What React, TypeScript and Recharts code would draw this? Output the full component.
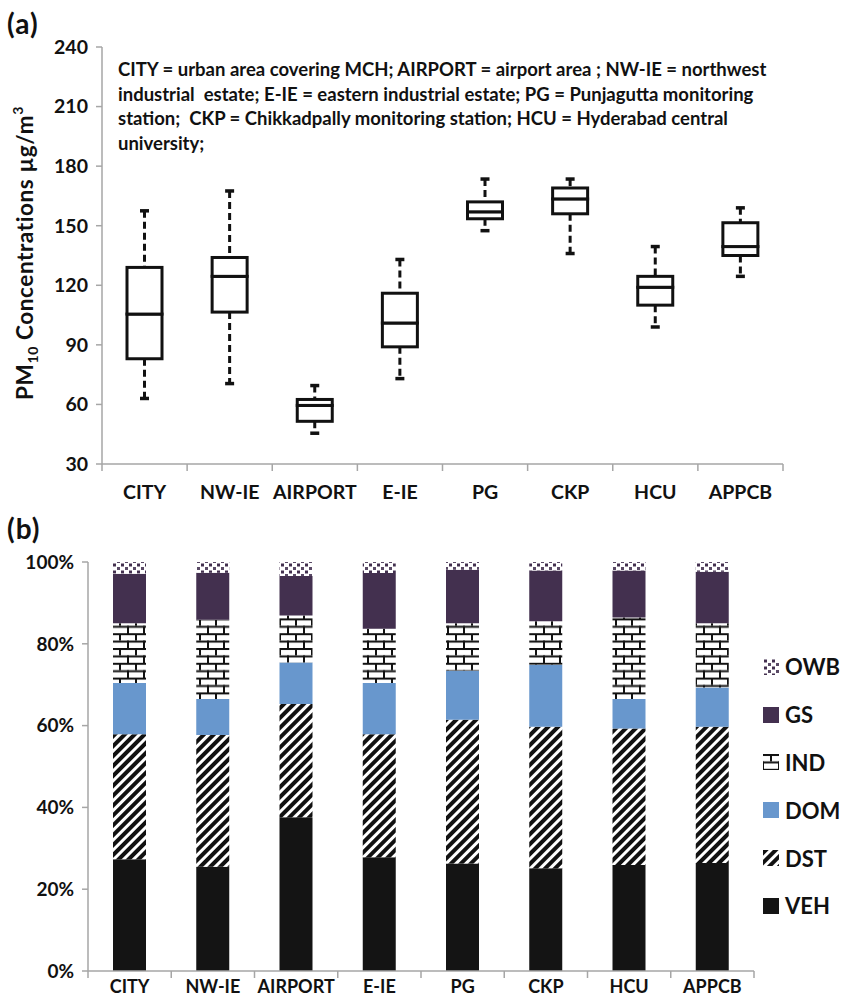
import React from 'react';
import { BarChart, Bar, XAxis, YAxis, Legend } from 'recharts';

const sites = ['CITY', 'NW-IE', 'AIRPORT', 'E-IE', 'PG', 'CKP', 'HCU', 'APPCB'];

// (a) PM10 box plot, µg/m3
const pmMin = [63, 70.5, 45.5, 73, 147.5, 136, 99, 124.5];
const pmQ1 = [83, 106.5, 51.5, 89, 153.5, 156, 110, 135];
const pmMedian = [105.5, 124.5, 59.5, 101, 157, 163.5, 119, 139.5];
const pmQ3 = [129, 134, 62.5, 116, 162, 169, 124.5, 151.5];
const pmMax = [157.5, 167.5, 69.5, 133, 173.5, 173.5, 139.5, 159];
const pmTicks = [30, 60, 90, 120, 150, 180, 210, 240];

// (b) source contributions, %
const VEH = [27.3, 25.5, 37.6, 27.8, 26.3, 25.1, 25.9, 26.4];
const DST = [30.6, 32.2, 27.7, 30.1, 35.1, 34.6, 33.4, 33.3];
const DOM = [12.5, 8.8, 10.1, 12.5, 12.0, 15.2, 7.2, 9.6];
const IND = [14.6, 19.4, 11.5, 13.3, 11.6, 10.6, 19.9, 15.7];
const GS = [12.1, 11.5, 9.7, 13.6, 13.1, 12.4, 11.5, 12.6];
const OWB = [2.9, 2.6, 3.4, 2.7, 1.9, 2.1, 2.1, 2.4];
const pctTicks = [0, 20, 40, 60, 80, 100];

const sourceNames = ['VEH', 'DST', 'DOM', 'IND', 'GS', 'OWB'];
const sourceFill: Record<string, string> = {
  VEH: '#141414',
  DST: 'url(#pDst)',
  DOM: '#6897cd',
  IND: 'url(#pInd)',
  GS: '#43304f',
  OWB: 'url(#pOwb)',
};

const noteLines = [
  'CITY = urban area covering MCH; AIRPORT = airport area ; NW-IE = northwest',
  'industrial  estate; E-IE = eastern industrial estate; PG = Punjagutta monitoring',
  'station;  CKP = Chikkadpally monitoring station; HCU = Hyderabad central',
  'university;',
];

const FONT = 'Lato, "Open Sans", sans-serif';
const INK = '#111';
const AXIS = '#a6a6a6';

const boxData = sites.map((site, i) => ({
  site,
  base: pmMin[i],
  lowWhisker: pmQ1[i] - pmMin[i],
  lowBox: pmMedian[i] - pmQ1[i],
  highBox: pmQ3[i] - pmMedian[i],
  highWhisker: pmMax[i] - pmQ3[i],
}));

const shareData = sites.map((site, i) => ({
  site,
  VEH: VEH[i],
  DST: DST[i],
  DOM: DOM[i],
  IND: IND[i],
  GS: GS[i],
  OWB: OWB[i],
}));

const SiteTick = (props: any) => {
  const { x, y, payload, index, band, count, fontSize, textDy } = props;
  const left = x - band / 2;
  const right = x + band / 2;
  return (
    <g>
      <line x1={left} x2={left} y1={y} y2={y + 7} stroke={AXIS} strokeWidth={1.5} />
      {index === count - 1 && <line x1={right} x2={right} y1={y} y2={y + 7} stroke={AXIS} strokeWidth={1.5} />}
      <text x={x} y={y + textDy} textAnchor="middle" fill={INK} fontSize={fontSize} fontWeight={700}>
        {payload.value}
      </text>
    </g>
  );
};

const BoxPart = (props: any) => {
  const { x, y, width, height } = props;
  return <rect x={x} y={y} width={width} height={height} fill="#fff" stroke={INK} strokeWidth={3} />;
};

const Whisker = (props: any) => {
  const { x, y, width, height, upper } = props;
  const cx = x + width / 2;
  const capY = upper ? y : y + height;
  return (
    <g>
      <line x1={cx} x2={cx} y1={y} y2={y + height} stroke={INK} strokeWidth={3} strokeDasharray="7 4" />
      <line x1={cx - 4.5} x2={cx + 4.5} y1={capY} y2={capY} stroke={INK} strokeWidth={3.5} />
    </g>
  );
};

const PmTitle = () => (
  <text
    transform="rotate(-90, 33, 253)"
    x={33}
    y={253}
    textAnchor="middle"
    fill={INK}
    fontSize={22.5}
    fontWeight={700}
    letterSpacing={0.6}
  >
    <tspan>PM</tspan>
    <tspan dy={5} fontSize={14}>10</tspan>
    <tspan dy={-5}> Concentrations µg/m</tspan>
    <tspan dy={-10} fontSize={14}>3</tspan>
  </text>
);

const Swatch = ({ name }: { name: string }) => (
  <svg width={16} height={16} style={{ marginRight: 6, flex: 'none' }}>
    <rect width={16} height={16} fill={sourceFill[name]} />
  </svg>
);

const SourceLegend = () => (
  <div style={{ fontFamily: FONT }}>
    {[...sourceNames].reverse().map((name) => (
      <div key={name} style={{ height: 47.8, display: 'flex', alignItems: 'center' }}>
        <Swatch name={name} />
        <span style={{ fontSize: 22, fontWeight: 700, color: INK }}>{name}</span>
      </div>
    ))}
  </div>
);

export default function App() {
  const bandA = (844 - 61 - 102) / sites.length;
  const bandB = (844 - 90 - 88) / sites.length;
  return (
    <div style={{ position: 'absolute', left: 0, top: 0, width: 844, height: 998, background: '#fff', fontFamily: FONT, overflow: 'hidden' }}>
      <svg width={0} height={0} style={{ position: 'absolute' }}>
        <defs>
          <pattern id="pDst" patternUnits="userSpaceOnUse" width={7} height={7} patternTransform="rotate(45)">
            <rect width={7} height={7} fill="#fff" />
            <rect width={4} height={7} fill={INK} />
          </pattern>
          <pattern id="pInd" patternUnits="userSpaceOnUse" width={16} height={14.8}>
            <rect width={16} height={14.8} fill="#fff" />
            <rect x={0} y={0} width={16} height={2} fill={INK} />
            <rect x={0} y={7.4} width={16} height={2} fill={INK} />
            <rect x={7} y={0} width={2} height={7.4} fill={INK} />
            <rect x={0} y={7.4} width={1} height={7.4} fill={INK} />
            <rect x={15} y={7.4} width={1} height={7.4} fill={INK} />
          </pattern>
          <pattern id="pOwb" patternUnits="userSpaceOnUse" width={8} height={7}>
            <rect width={8} height={7} fill="#fff" />
            <rect x={1} y={0.5} width={3} height={3} fill="#43304f" />
            <rect x={5} y={4} width={3} height={3} fill="#5a4a66" />
          </pattern>
        </defs>
      </svg>

      <div style={{ position: 'absolute', left: 7, top: 9, fontSize: 28, fontWeight: 700, color: INK, lineHeight: 1, letterSpacing: 1 }}>(a)</div>
      <div style={{ position: 'absolute', left: 7, top: 514, fontSize: 28, fontWeight: 700, color: INK, lineHeight: 1, letterSpacing: 1 }}>(b)</div>

      <div style={{ position: 'absolute', left: 0, top: 0 }}>
        <BarChart width={844} height={512} data={boxData} margin={{ top: 47, right: 61, bottom: 0, left: 0 }}>
          <XAxis
            dataKey="site"
            height={48}
            axisLine={{ stroke: AXIS, strokeWidth: 1.5 }}
            tickLine={false}
            tickSize={0}
            tickMargin={0}
            interval={0}
            tick={<SiteTick band={bandA} count={sites.length} fontSize={19.5} textDy={35} />}
          />
          <YAxis
            width={102}
            domain={[30, 240]}
            ticks={pmTicks}
            allowDataOverflow
            axisLine={{ stroke: AXIS, strokeWidth: 1.5 }}
            tickLine={{ stroke: AXIS, strokeWidth: 1.5 }}
            tickSize={6}
            tickMargin={8}
            tick={{ fill: INK, fontSize: 19.5, fontWeight: 700 }}
            label={() => <PmTitle />}
          />
          <Bar dataKey="base" stackId="pm" fill="transparent" barSize={35} isAnimationActive={false} />
          <Bar dataKey="lowWhisker" stackId="pm" barSize={35} isAnimationActive={false} shape={(p: any) => <Whisker {...p} />} />
          <Bar dataKey="lowBox" stackId="pm" barSize={35} isAnimationActive={false} shape={(p: any) => <BoxPart {...p} />} />
          <Bar dataKey="highBox" stackId="pm" barSize={35} isAnimationActive={false} shape={(p: any) => <BoxPart {...p} />} />
          <Bar dataKey="highWhisker" stackId="pm" barSize={35} isAnimationActive={false} shape={(p: any) => <Whisker {...p} upper />} />
        </BarChart>
      </div>

      <div
        style={{
          position: 'absolute',
          left: 118,
          top: 57,
          fontSize: 18.5,
          fontWeight: 700,
          lineHeight: '24.5px',
          color: INK,
          whiteSpace: 'pre',
        }}
      >
        {noteLines.map((line) => (
          <div key={line}>{line}</div>
        ))}
      </div>

      <div style={{ position: 'absolute', left: 0, top: 500 }}>
        <BarChart width={844} height={498} data={shareData} margin={{ top: 62, right: 90, bottom: 0, left: 0 }}>
          <XAxis
            dataKey="site"
            height={27}
            axisLine={{ stroke: AXIS, strokeWidth: 1.5 }}
            tickLine={false}
            tickSize={0}
            tickMargin={0}
            interval={0}
            tick={<SiteTick band={bandB} count={sites.length} fontSize={18} textDy={22} />}
          />
          <YAxis
            width={88}
            domain={[0, 100]}
            ticks={pctTicks}
            allowDataOverflow
            axisLine={{ stroke: AXIS, strokeWidth: 1.5 }}
            tickLine={{ stroke: AXIS, strokeWidth: 1.5 }}
            tickSize={6}
            tickMargin={8}
            tick={{ fill: INK, fontSize: 19, fontWeight: 700 }}
            tickFormatter={(v: number) => `${v}%`}
          />
          <Legend
            layout="vertical"
            align="center"
            verticalAlign="middle"
            wrapperStyle={{ left: 763, top: 143, width: 81 }}
            content={() => <SourceLegend />}
          />
          {sourceNames.map((name) => (
            <Bar key={name} dataKey={name} name={name} stackId="src" fill={sourceFill[name]} barSize={33} isAnimationActive={false} />
          ))}
        </BarChart>
      </div>
    </div>
  );
}
